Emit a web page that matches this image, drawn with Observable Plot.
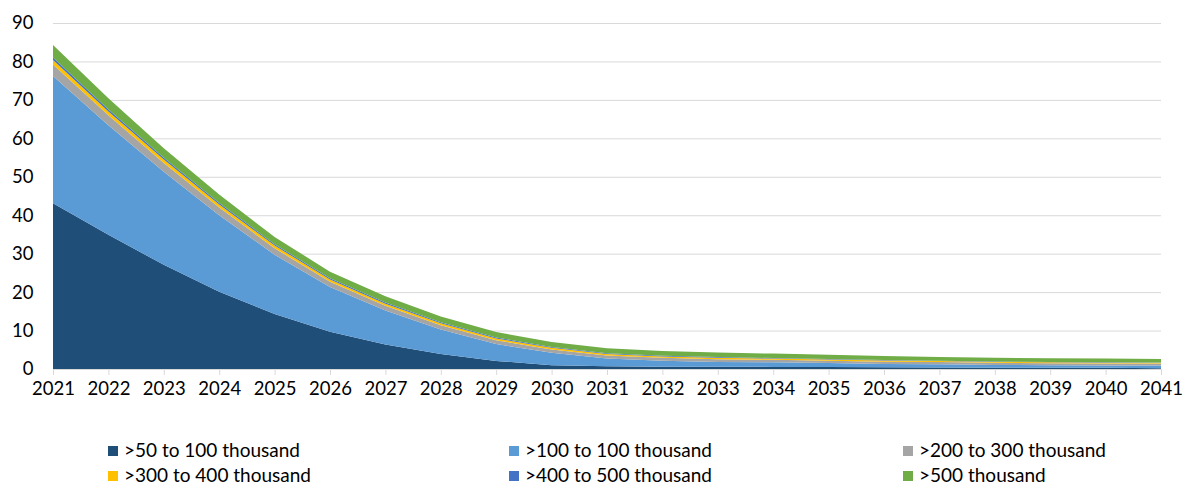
<!DOCTYPE html>
<html>
<head>
<meta charset="utf-8">
<script src="https://cdn.jsdelivr.net/npm/d3@7"></script>
<script src="https://cdn.jsdelivr.net/npm/@observablehq/plot@0.6"></script>
<style>
  body { margin: 0; background: #fff; font-family: Lato, "Open Sans", sans-serif; }
  #wrap { position: relative; width: 1185px; height: 488px; }
  .legend { position: absolute; font-size: 19px; line-height: 18px; height: 18px; color: #000; white-space: nowrap; }
  .legend .sw { display: inline-block; width: 10px; height: 10px; margin-right: 6px; vertical-align: 1px; }
</style>
</head>
<body>
<div id="wrap"></div>
<script>
const years = [2021,2022,2023,2024,2025,2026,2027,2028,2029,2030,2031,2032,2033,2034,2035,2036,2037,2038,2039,2040,2041];
const seriesNames = [">50 to 100 thousand", ">100 to 100 thousand", ">200 to 300 thousand", ">300 to 400 thousand", ">400 to 500 thousand", ">500 thousand"];
const seriesColors = ["#1F4E79", "#5B9BD5", "#A5A5A5", "#FFC000", "#4472C4", "#70AD47"];
const s50to100  = [43.1, 34.9, 27.1, 20.1, 14.3, 9.7, 6.4, 3.9, 2.1, 1.0, 0.7, 0.6, 0.6, 0.55, 0.5, 0.45, 0.4, 0.35, 0.3, 0.3, 0.2];
const s100to100 = [33.1, 28.5, 24.2, 19.9, 15.4, 11.6, 8.8, 6.4, 4.4, 3.2, 2.0, 1.55, 1.25, 1.2, 1.05, 0.85, 0.85, 0.7, 0.7, 0.6, 0.7];
const s200to300 = [3.0, 2.6, 2.3, 2.0, 1.7, 1.4, 1.25, 1.1, 1.0, 0.9, 0.8, 0.75, 0.7, 0.65, 0.6, 0.6, 0.55, 0.55, 0.5, 0.5, 0.5];
const s300to400 = [1.2, 1.0, 0.9, 0.8, 0.7, 0.6, 0.55, 0.5, 0.45, 0.4, 0.4, 0.35, 0.35, 0.3, 0.3, 0.3, 0.25, 0.25, 0.25, 0.25, 0.2];
const s400to500 = [0.6, 0.5, 0.45, 0.4, 0.35, 0.3, 0.3, 0.25, 0.25, 0.2, 0.2, 0.2, 0.2, 0.15, 0.15, 0.15, 0.1, 0.1, 0.1, 0.1, 0.1];
const s500plus  = [3.3, 2.9, 2.5, 2.2, 1.9, 1.7, 1.6, 1.5, 1.4, 1.35, 1.3, 1.25, 1.2, 1.15, 1.1, 1.05, 1.0, 1.0, 0.95, 0.95, 0.9];
const yTicks = [0,10,20,30,40,50,60,70,80,90];

const seriesValues = [s50to100, s100to100, s200to300, s300to400, s400to500, s500plus];
const data = [];
seriesNames.forEach((name, i) => {
  years.forEach((yr, j) => data.push({year: yr, series: name, value: seriesValues[i][j]}));
});

const chart = Plot.plot({
  width: 1185,
  height: 400,
  marginLeft: 53,
  marginRight: 24,
  marginTop: 23,
  marginBottom: 31,
  style: { fontFamily: "Lato, 'Open Sans', sans-serif", fontSize: "18.5px", color: "#000", background: "#fff" },
  x: { type: "linear", domain: [2021, 2041], label: null },
  y: { domain: [0, 90], label: null },
  color: { domain: seriesNames, range: seriesColors },
  marks: [
    Plot.gridY(yTicks, { stroke: "#D9D9D9", strokeOpacity: 1, strokeWidth: 1 }),
    Plot.areaY(data, { x: "year", y: "value", z: "series", fill: "series", order: seriesNames, curve: "linear" }),
    Plot.ruleY([0], { stroke: "#D9D9D9" }),
    Plot.axisX({ ticks: years, tickFormat: d => String(d), tickSize: 6, tickPadding: 6, stroke: "#D9D9D9", fill: "#000", fontSize: 18.5, label: null }),
    Plot.axisY({ ticks: yTicks, tickSize: 0, tickPadding: 20, fill: "#000", fontSize: 18.5, label: null })
  ]
});

const wrap = document.getElementById("wrap");
wrap.appendChild(chart);

const legendPos = [[108, 450], [509, 450], [903, 450], [108, 475], [509, 475], [903, 475]];
seriesNames.forEach((name, i) => {
  const d = document.createElement("div");
  d.className = "legend";
  d.style.left = legendPos[i][0] + "px";
  d.style.top = (legendPos[i][1] - 9) + "px";
  d.innerHTML = `<span class="sw" style="background:${seriesColors[i]}"></span>${name}`;
  wrap.appendChild(d);
});
</script>
</body>
</html>
